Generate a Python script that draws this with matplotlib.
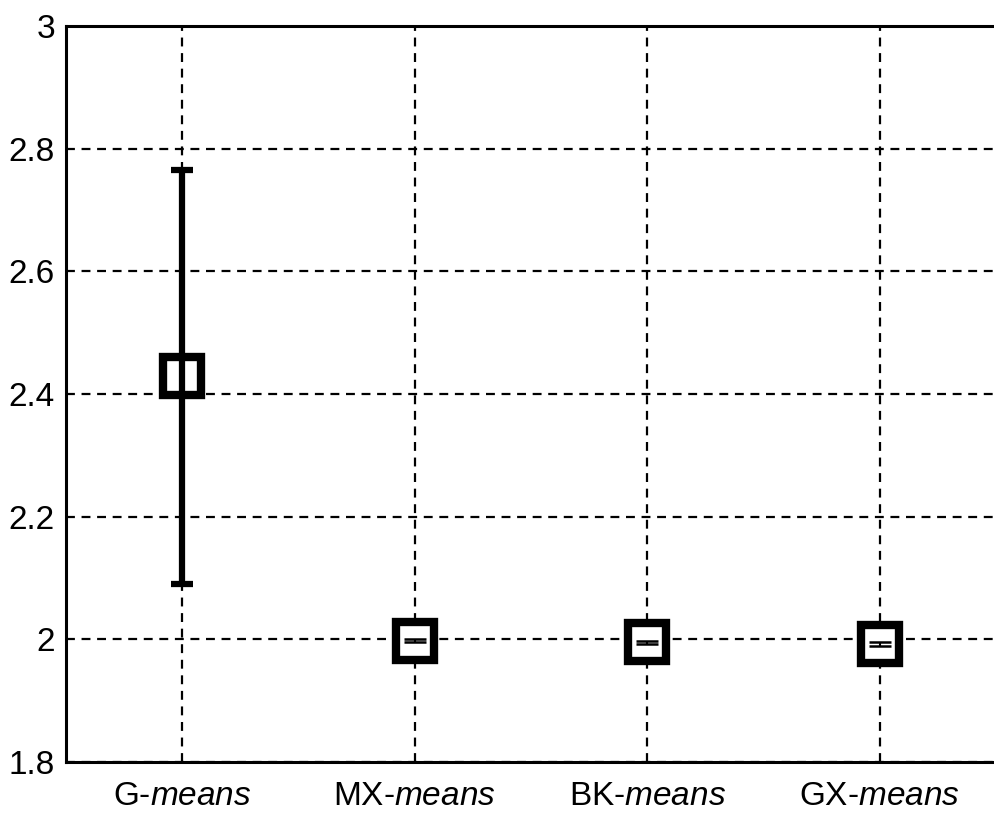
" mean and spread of the number of clusters found by each method "
import numpy as np
import matplotlib.pyplot as plt

plt.rcParams.update({'font.family': ['Liberation Sans', 'DejaVu Sans'],
                     'mathtext.fontset': 'custom',
                     'mathtext.it': 'Liberation Sans:italic',
                     'mathtext.rm': 'Liberation Sans'})

methods = ["G", "MX", "BK", "GX"]
means = [2.43, 1.998, 1.995, 1.992]
err_low = [0.34, 0.003, 0.003, 0.003]
err_high = [0.335, 0.003, 0.003, 0.003]
yticks = [1.8, 2.0, 2.2, 2.4, 2.6, 2.8, 3.0]

fig = plt.figure(figsize=(9.94, 8.15), dpi=100)
ax = fig.add_axes([66/994, 53/815, 930/994, 736/815])

x = np.arange(1, len(methods) + 1)
ax.plot(x, means, linestyle="none", marker="s", markersize=28,
        markerfacecolor="white", markeredgecolor="k", markeredgewidth=6,
        zorder=3)
# wide spread for the first method, thin bars for the rest
ax.errorbar(x[:1], means[:1], yerr=[err_low[:1], err_high[:1]], fmt="none",
            ecolor="k", elinewidth=4.5, capsize=8, capthick=4.5, zorder=4)
ax.errorbar(x[1:], means[1:], yerr=[err_low[1:], err_high[1:]], fmt="none",
            ecolor="k", elinewidth=1.5, capsize=8, capthick=1.8, zorder=4)

ax.set_xlim(0.5, 4.5)
ax.set_ylim(1.8, 3.0)
ax.set_xticks(x)
ax.set_xticklabels(["%s-$\\mathit{means}$" % m for m in methods])
ax.set_yticks(yticks)
ax.set_yticklabels(["%g" % round(t, 1) for t in yticks])
ax.tick_params(axis="both", direction="in", length=0, labelsize=24)
ax.tick_params(axis="x", pad=14)
ax.tick_params(axis="y", pad=8)
ax.grid(True, color="k", linestyle=(0, (4, 3)), linewidth=1.6)
ax.set_axisbelow(True)
for side in ["left", "top", "bottom"]:
    ax.spines[side].set_linewidth(2.2)
ax.spines["right"].set_visible(False)

fig.savefig("out.png", dpi=100)
